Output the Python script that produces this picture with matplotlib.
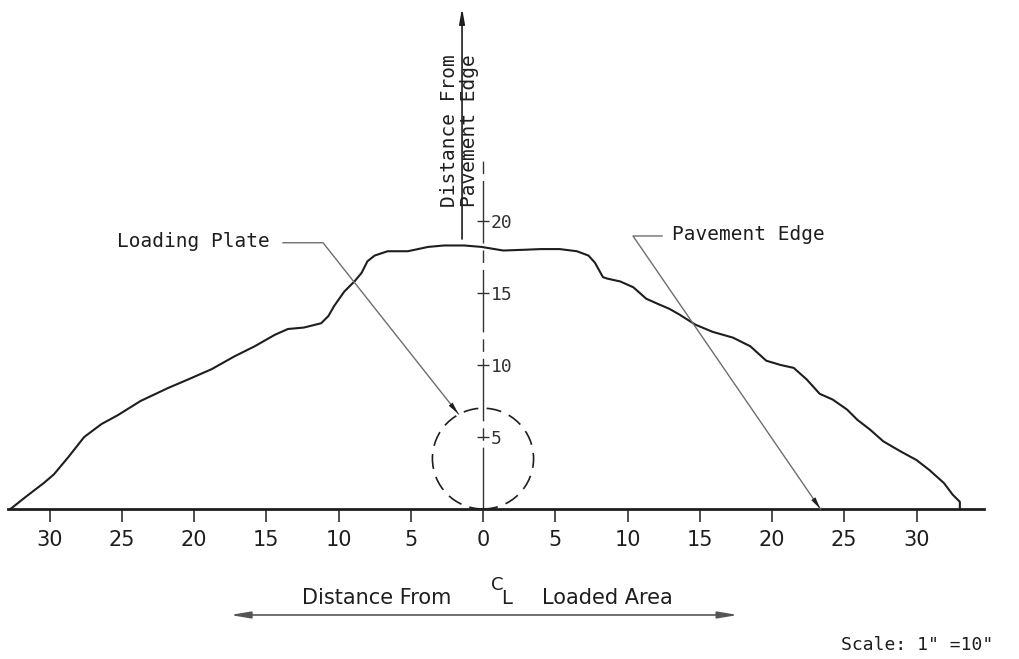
import matplotlib
matplotlib.use("Agg")
import matplotlib.pyplot as plt
from matplotlib.patches import Circle

# Outline of the distressed area: distance from the centerline of the
# loaded area (x, inches) against distance from the pavement edge (y, inches)
contour_x = [-32.7, -31.7, -30.4, -29.7, -28.7, -27.6, -26.4, -25.3, -23.7,
             -21.8, -20.4, -18.8, -17.2, -15.8, -14.4, -13.5, -12.4, -11.2,
             -10.7, -10.3, -9.6, -8.9, -8.4, -8.0, -7.5, -6.6, -5.2, -3.8,
             -2.7, -1.3, -0.1, 1.4, 2.8, 4.0, 5.3, 6.5, 7.3, 7.75, 8.3, 8.6,
             9.5, 10.4, 11.3, 12.2, 12.9, 13.6, 14.7, 15.9, 17.3, 18.5, 19.6,
             20.6, 21.5, 22.4, 23.3, 24.2, 25.2, 25.9, 26.8, 27.7, 28.9, 30.0,
             30.9, 31.9, 32.5, 32.95, 33.0, 33.0]
contour_y = [0.0, 0.8, 1.8, 2.4, 3.6, 5.0, 5.9, 6.5, 7.5,
             8.4, 9.0, 9.7, 10.6, 11.3, 12.1, 12.5, 12.6, 12.9,
             13.4, 14.1, 15.1, 15.8, 16.4, 17.2, 17.6, 17.9, 17.9, 18.2,
             18.3, 18.3, 18.2, 17.95, 18.0, 18.05, 18.05, 17.9, 17.6, 17.1, 16.1, 16.0,
             15.8, 15.4, 14.6, 14.2, 13.9, 13.5, 12.8, 12.3, 11.9, 11.3, 10.3,
             10.0, 9.8, 9.0, 8.0, 7.6, 6.9, 6.2, 5.5, 4.7, 4.0, 3.4,
             2.7, 1.8, 1.0, 0.55, 0.5, 0.0]

x_ticks = [-30, -25, -20, -15, -10, -5, 0, 5, 10, 15, 20, 25, 30]
x_tick_labels = ["30", "25", "20", "15", "10", "5", "0",
                 "5", "10", "15", "20", "25", "30"]
y_ticks = [5, 10, 15, 20]
y_tick_labels = ["5", "10", "15", "20"]

# Loading plate footprint (centre on the centerline)
plate_center = (0.0, 3.5)
plate_radius = 3.5

# Where the two leader arrows point
loading_plate_tip = (-1.7, 6.6)
pavement_edge_tip = (23.35, 0.0)

INK = "#1e1e1e"
LEAD = "#6e6e6e"
MONO = ["DejaVu Sans Mono"]
NARROW = ["Liberation Sans Narrow", "DejaVu Sans Condensed", "DejaVu Sans"]

W, H = 1020, 659
fig = plt.figure(figsize=(W / 100, H / 100), dpi=100)
fig.patch.set_facecolor("white")
ax = fig.add_axes([0, 0, 1, 1])
ax.set_facecolor("white")

# drawing scale: pixels per inch and origin position on the sheet
X0, SX = 483.0, 14.45
Y0, SY = 509.0, 14.4
ax.set_xlim(-X0 / SX, (W - X0) / SX)
ax.set_ylim((Y0 - H) / SY, Y0 / SY)

# axes: baseline along the pavement edge, dash-dot centerline through the plate
ax.spines["top"].set_visible(False)
ax.spines["left"].set_visible(False)
ax.spines["bottom"].set_position(("data", 0))
ax.spines["bottom"].set_bounds(-32.9, 34.7)
ax.spines["bottom"].set_linewidth(2.0)
ax.spines["bottom"].set_color(INK)
ax.spines["right"].set_position(("data", 0))
ax.spines["right"].set_bounds(0, 24.4)
ax.spines["right"].set_linewidth(1.0)
ax.spines["right"].set_color("#333333")
ax.spines["right"].set_linestyle((0, (44, 6, 8, 6)))

ax.yaxis.tick_right()
ax.set_yticks(y_ticks, y_tick_labels, family=MONO, fontsize=13, color="#333333")
ax.tick_params(axis="y", direction="inout", length=9, width=1.0,
               pad=1, colors="#333333")
ax.set_xticks(x_ticks, x_tick_labels, family=NARROW, fontsize=15, color="#2a2a2a")
ax.tick_params(axis="x", direction="out", length=9, width=1.1,
               pad=6, colors=INK)

# contour of the measured area
ax.plot(contour_x, contour_y, color=INK, lw=1.5, solid_joinstyle="round",
        zorder=3)

# loading plate
ax.add_patch(Circle(plate_center, plate_radius, fill=False, ec=INK, lw=1.2,
                    ls=(0, (9, 5)), zorder=3))


def leader(label, text_xy, elbow_start, elbow_end, tip):
    ax.text(*text_xy, label, family=MONO, fontsize=14, color=INK,
            ha="left", va="center")
    ax.plot([elbow_start[0], elbow_end[0], tip[0]],
            [elbow_start[1], elbow_end[1], tip[1]], color=LEAD, lw=1.0,
            zorder=4)
    ax.annotate("", xy=tip, xytext=elbow_end,
                arrowprops=dict(arrowstyle="-|>,head_length=0.9,head_width=0.18",
                                color=INK, lw=0.0, shrinkA=0, shrinkB=0),
                zorder=5)


leader("Loading Plate", (-25.35, 18.56), (-13.84, 18.49), (-11.07, 18.49),
       loading_plate_tip)
leader("Pavement Edge", (13.06, 19.03), (12.39, 18.96), (10.38, 18.96),
       pavement_edge_tip)

# vertical axis arrow and its title
ax.annotate("", xy=(-1.45, 34.8), xytext=(-1.45, 18.75),
            arrowprops=dict(arrowstyle="-|>,head_length=0.9,head_width=0.16",
                            color=INK, lw=1.2, shrinkA=0, shrinkB=0))
ax.text(-2.3, 26.25, "Distance From", family=MONO, fontsize=14, color=INK,
        rotation=90, ha="center", va="center")
ax.text(-0.9, 26.3, "Pavement Edge", family=MONO, fontsize=14, color=INK,
        rotation=90, ha="center", va="center")

# horizontal axis title with double-headed arrow
ax.annotate("", xy=(-17.5, -7.36), xytext=(17.65, -7.36),
            arrowprops=dict(arrowstyle="<|-|>,head_length=1.2,head_width=0.2",
                            color="#555555", lw=1.2, shrinkA=0, shrinkB=0))
ax.text(-12.5, -6.18, "Distance From", family=NARROW, fontsize=15, color=INK,
        ha="left", va="center")
ax.text(0.97, -5.25, "C", family=NARROW, fontsize=13, color=INK,
        ha="center", va="center")
ax.text(1.66, -6.25, "L", family=NARROW, fontsize=14, color=INK,
        ha="center", va="center")
ax.text(4.08, -6.18, "Loaded Area", family=NARROW, fontsize=15, color=INK,
        ha="left", va="center")

ax.text(24.8, -9.44, 'Scale: 1" =10"', family=MONO, fontsize=13, color=INK,
        ha="left", va="center")

fig.savefig("out.png", dpi=100, facecolor="white")
